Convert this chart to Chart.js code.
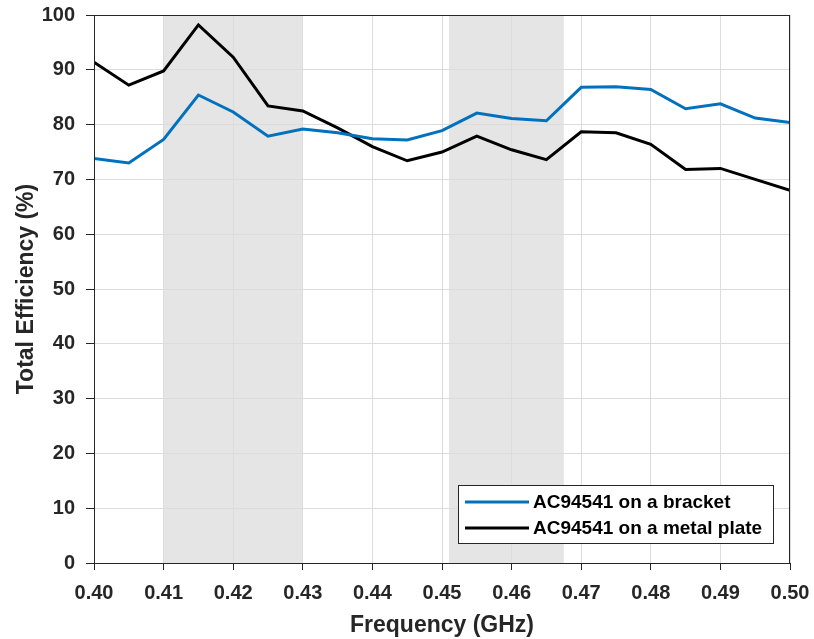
<!DOCTYPE html>
<html>
<head>
<meta charset="utf-8">
<script src="https://cdn.jsdelivr.net/npm/chart.js@4.4.0/dist/chart.umd.min.js"></script>
<style>
  html, body { margin: 0; padding: 0; background: #fff; }
  #chart { display: block; }
</style>
</head>
<body>
<canvas id="chart" width="814" height="639"></canvas>
<script>
// frequency points (GHz)
var freq = [0.400, 0.405, 0.410, 0.415, 0.420, 0.425, 0.430, 0.435, 0.440, 0.445, 0.450,
            0.455, 0.460, 0.465, 0.470, 0.475, 0.480, 0.485, 0.490, 0.495, 0.500];
var bracket = [73.8, 73.0, 77.3, 85.4, 82.3, 77.9, 79.2, 78.5, 77.4, 77.2, 78.9,
               82.1, 81.1, 80.7, 86.8, 86.9, 86.4, 82.9, 83.8, 81.2, 80.4];
var metalPlate = [91.4, 87.2, 89.8, 98.2, 92.3, 83.4, 82.5, 79.4, 76.0, 73.4, 75.0,
                  77.9, 75.4, 73.6, 78.7, 78.5, 76.4, 71.8, 72.0, 70.0, 68.0];
var seriesNames = ["AC94541 on a bracket", "AC94541 on a metal plate"];
var bandStart = [0.410, 0.451];
var bandEnd = [0.430, 0.4675];

var FONT = "'Liberation Sans', Arial, sans-serif";
var TXT = "#262626";

function toPoints(ys){
    return freq.map(function(f, i){ return {x: f, y: ys[i]}; });
}

// grey frequency bands behind the grid
var bandPlugin = {
    id: "bands",
    beforeDraw: function(chart){
        var ctx = chart.ctx, a = chart.chartArea, xs = chart.scales.x;
        ctx.save();
        ctx.fillStyle = "#e5e5e5";
        for (var i = 0; i < bandStart.length; i++){
            var x1 = xs.getPixelForValue(bandStart[i]);
            var x2 = xs.getPixelForValue(bandEnd[i]);
            ctx.fillRect(x1, a.top, x2 - x1, a.bottom - a.top);
        }
        ctx.restore();
    }
};

// box around the axes plus the legend inside the plot
var framePlugin = {
    id: "frame",
    afterDraw: function(chart){
        var ctx = chart.ctx, a = chart.chartArea;
        ctx.save();
        ctx.strokeStyle = "#262626";
        ctx.lineWidth = 1;
        ctx.strokeRect(Math.round(a.left) + 0.5, Math.round(a.top) + 0.5,
                       Math.round(a.right - a.left) - 1, Math.round(a.bottom - a.top));

        var bx = a.right - 332, by = a.bottom - 78, bw = 315, bh = 58;
        ctx.fillStyle = "#fff";
        ctx.fillRect(bx, by, bw, bh);
        ctx.strokeStyle = "#262626";
        ctx.strokeRect(bx + 0.5, by + 0.5, bw, bh);
        ctx.font = "bold 19px " + FONT;
        ctx.textBaseline = "middle";
        chart.data.datasets.forEach(function(ds, i){
            var yy = by + 17 + i * 26;
            ctx.strokeStyle = ds.borderColor;
            ctx.lineWidth = 3;
            ctx.beginPath();
            ctx.moveTo(bx + 7, yy);
            ctx.lineTo(bx + 71, yy);
            ctx.stroke();
            ctx.fillStyle = "#000";
            ctx.fillText(ds.label, bx + 75, yy + 1);
        });
        ctx.restore();
    }
};

new Chart(document.getElementById("chart"), {
    type: "line",
    data: {
        datasets: [
            {label: seriesNames[0], data: toPoints(bracket), borderColor: "#0072BD", borderWidth: 3, pointRadius: 0, tension: 0, fill: false},
            {label: seriesNames[1], data: toPoints(metalPlate), borderColor: "#000000", borderWidth: 3, pointRadius: 0, tension: 0, fill: false}
        ]
    },
    options: {
        responsive: false,
        animation: false,
        layout: {padding: {top: 15, right: 24, left: 0, bottom: 0}},
        plugins: {legend: {display: false}, tooltip: {enabled: false}},
        scales: {
            x: {
                type: "linear", min: 0.4, max: 0.5,
                afterFit: function(s){ s.height = 76; s.paddingLeft = 0; s.paddingRight = 0; },
                ticks: {stepSize: 0.01, color: TXT, padding: 11,
                        font: {family: FONT, size: 20, weight: "bold"},
                        callback: function(v){ return Number(v).toFixed(2); }},
                grid: {color: "#dcdcdc", tickColor: "#262626", tickLength: 7},
                border: {color: "#262626"},
                title: {display: true, text: "Frequency (GHz)", color: TXT,
                        font: {family: FONT, size: 23, weight: "bold"}, padding: {top: 0, bottom: 0}}
            },
            y: {
                min: 0, max: 100,
                afterFit: function(s){ s.width = 94; s.paddingTop = 0; s.paddingBottom = 0; },
                ticks: {stepSize: 10, color: TXT, padding: 11,
                        font: {family: FONT, size: 20, weight: "bold"}},
                grid: {color: "#dcdcdc", tickColor: "#262626", tickLength: 8},
                border: {color: "#262626"},
                title: {display: true, text: "Total Efficiency (%)", color: TXT,
                        font: {family: FONT, size: 23, weight: "bold"}, padding: {top: 13, bottom: 0}}
            }
        }
    },
    plugins: [bandPlugin, framePlugin]
});
</script>
</body>
</html>
